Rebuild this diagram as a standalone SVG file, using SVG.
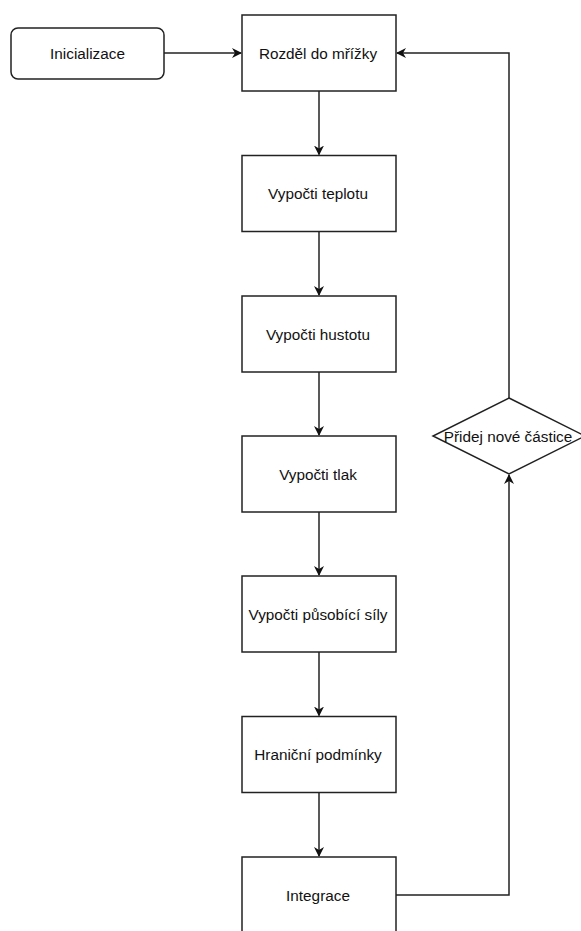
<svg xmlns="http://www.w3.org/2000/svg" width="581" height="931" viewBox="0 0 581 931">
<style>
.n{fill:#fff;stroke:#222;stroke-width:1.5}
.t{font-family:"Liberation Sans",Arial,sans-serif;font-size:15.3px;fill:#111;text-anchor:middle;dominant-baseline:central}
.c{fill:none;stroke:#222;stroke-width:1.5}
</style>
<defs>
<marker id="a" viewBox="0 0 10 10" refX="9" refY="5" markerWidth="10" markerHeight="10" markerUnits="userSpaceOnUse" orient="auto">
<path d="M0,0 L10,5 L0,10 L3,5 Z" fill="#111"/>
</marker>
</defs>
<rect width="581" height="931" fill="#fff"/>
<g id="connectors">
<line class="c" x1="164" y1="53" x2="241" y2="53" marker-end="url(#a)"/>
<line class="c" x1="319" y1="91" x2="319" y2="154.5" marker-end="url(#a)"/>
<line class="c" x1="319" y1="231.5" x2="319" y2="295" marker-end="url(#a)"/>
<line class="c" x1="319" y1="372" x2="319" y2="435" marker-end="url(#a)"/>
<line class="c" x1="319" y1="512" x2="319" y2="575" marker-end="url(#a)"/>
<line class="c" x1="319" y1="652" x2="319" y2="715.5" marker-end="url(#a)"/>
<line class="c" x1="319" y1="792.5" x2="319" y2="856" marker-end="url(#a)"/>
<polyline class="c" points="396,895 509,895 509,475" marker-end="url(#a)"/>
<polyline class="c" points="509,398 509,53 397,53" marker-end="url(#a)"/>
</g>
<g id="inicializace">
<rect class="n" x="11" y="28" width="153" height="51" rx="7"/>
<text class="t" x="87.5" y="53.5">Inicializace</text>
</g>
<g id="rozdel">
<rect class="n" x="242" y="15" width="154" height="76"/>
<text class="t" x="318" y="53.5">Rozděl do mřížky</text>
</g>
<g id="teplota">
<rect class="n" x="242" y="155.5" width="154" height="76"/>
<text class="t" x="318" y="193.5">Vypočti teplotu</text>
</g>
<g id="hustota">
<rect class="n" x="242" y="296" width="154" height="76"/>
<text class="t" x="318" y="334">Vypočti hustotu</text>
</g>
<g id="tlak">
<rect class="n" x="242" y="436" width="154" height="76"/>
<text class="t" x="318" y="474">Vypočti tlak</text>
</g>
<g id="sily">
<rect class="n" x="242" y="576" width="154" height="76"/>
<text class="t" x="318" y="614">Vypočti působící síly</text>
</g>
<g id="podminky">
<rect class="n" x="242" y="716.5" width="154" height="76"/>
<text class="t" x="318" y="754.5">Hraniční podmínky</text>
</g>
<g id="integrace">
<rect class="n" x="242" y="857" width="154" height="76"/>
<text class="t" x="318" y="895">Integrace</text>
</g>
<g id="pridej">
<polygon class="n" points="509,398 585,436 509,474 433,436"/>
<text class="t" x="508" y="436">Přidej nové částice</text>
</g>
</svg>
